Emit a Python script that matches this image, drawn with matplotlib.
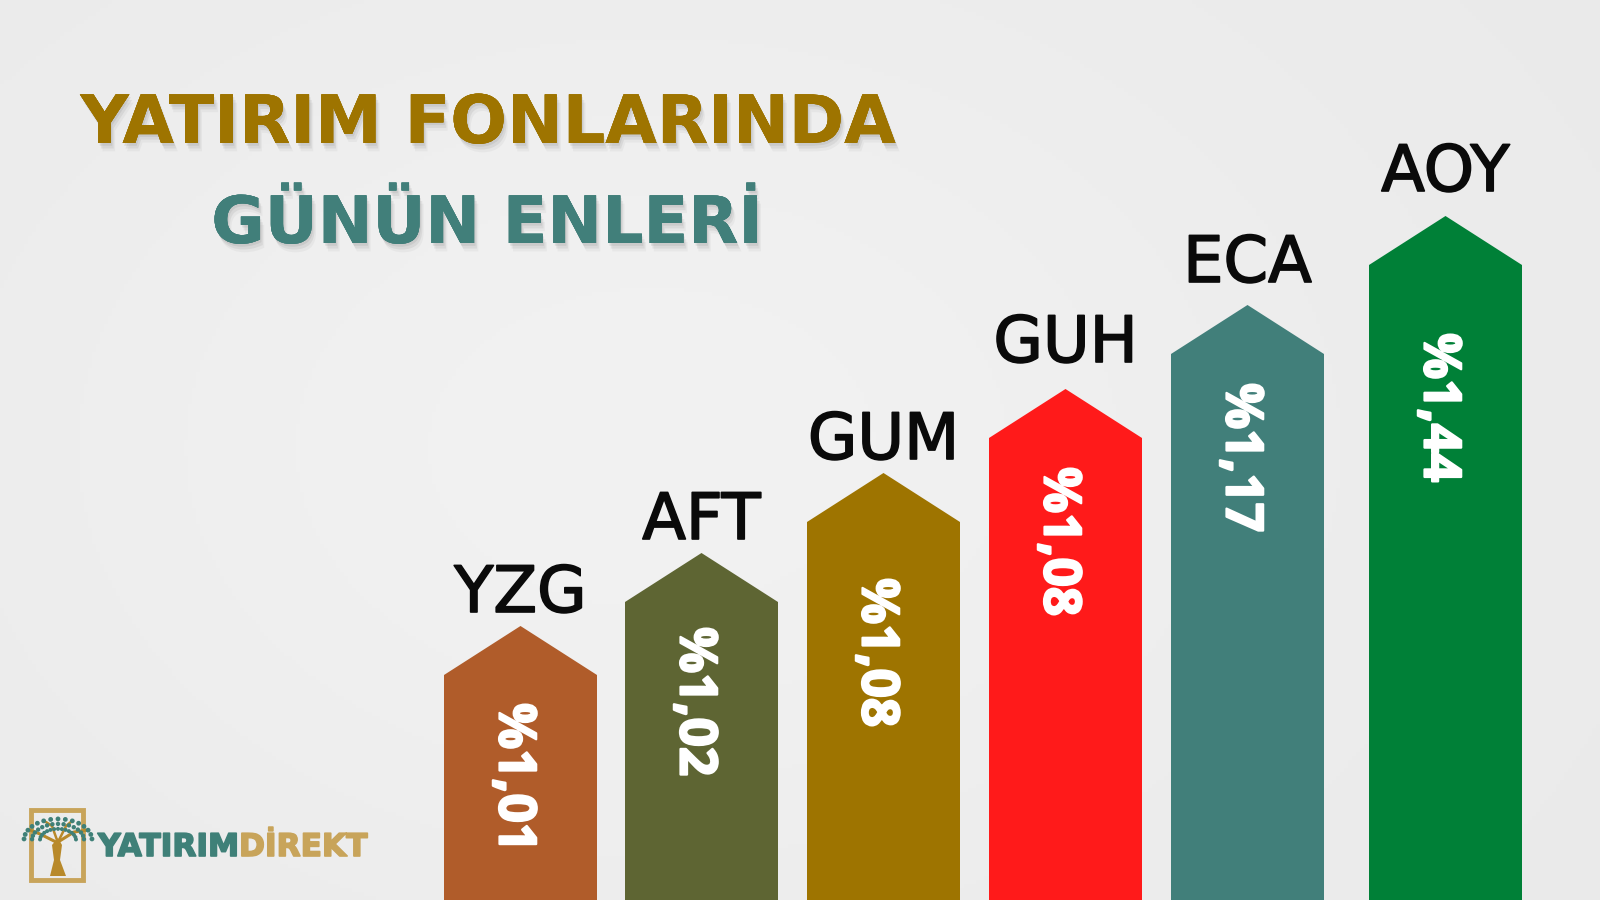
import matplotlib
matplotlib.use("Agg")
import matplotlib.pyplot as plt
import matplotlib.patheffects as pe
from matplotlib.patches import Polygon, Rectangle, Circle
import numpy as np

# ---------------- data ----------------
categories = ["YZG", "AFT", "GUM", "GUH", "ECA", "AOY"]
values = [1.01, 1.02, 1.08, 1.08, 1.17, 1.44]
bar_heights = [225, 298, 378, 462, 546, 635]       # shoulder heights as drawn (px from bottom)
colors = ["#B05C2A", "#5E6533", "#9E7400", "#FF1A1A", "#417F7A", "#008037"]

title_line1 = "YATIRIM FONLARINDA"
title_line2 = "GÜNÜN ENLERİ"
brand_a = "YATIRIM"
brand_b = "DİREKT"

# ---------------- layout ----------------
bar_left = [444, 625, 807, 989, 1171, 1369]
bar_width = 153
tip_h = 49
label_gap = [14, 14, 14, 27, 23, 25]
value_offset = [28, 25, 56, 29, 29, 68]

W, H = 1600, 900
fig = plt.figure(figsize=(16, 9), dpi=100)
ax = fig.add_axes([0, 0, 1, 1])
ax.set_xlim(0, W)
ax.set_ylim(0, H)
ax.axis("off")

# background: soft light-gray gradient
yy, xx = np.mgrid[0:H:4, 0:W:4]
g = 0.918 + 0.03 * np.exp(-(((xx - 650) / 700.0) ** 2 + ((yy - 450) / 500.0) ** 2))
bg = np.dstack([g, g, g])
ax.imshow(bg, extent=[0, W, 0, H], origin="lower", aspect="auto", zorder=0)

# ---------------- arrow bars ----------------
thick_label = [pe.withStroke(linewidth=1.2, foreground="#0a0a0a")]
thick_value = [pe.withStroke(linewidth=1.6, foreground="white")]
for i, (cat, v, h, c) in enumerate(zip(categories, values, bar_heights, colors)):
    L = bar_left[i]
    cx = L + bar_width / 2
    poly = Polygon([(L, 0), (L, h), (cx, h + tip_h), (L + bar_width, h), (L + bar_width, 0)],
                   closed=True, facecolor=c, edgecolor="none", zorder=2)
    ax.add_patch(poly)
    ax.text(cx, h + tip_h + label_gap[i], cat, ha="center", va="baseline",
            fontsize=46, family="DejaVu Sans", color="#0a0a0a",
            path_effects=thick_label, zorder=3)
    txt = "%" + f"{v:.2f}".replace(".", ",")
    ax.text(cx - 2, h - value_offset[i], txt, rotation=-90, rotation_mode="anchor",
            ha="left", va="center_baseline", fontsize=37, family="Open Sans",
            fontweight="bold", fontstyle="normal", color="white",
            path_effects=thick_value, zorder=3)

# ---------------- title ----------------
shadow = [pe.withSimplePatchShadow(offset=(1, -2), shadow_rgbFace="#888888", alpha=0.18),
          pe.withSimplePatchShadow(offset=(2, -4), shadow_rgbFace="#888888", alpha=0.14),
          pe.withSimplePatchShadow(offset=(3, -6), shadow_rgbFace="#999999", alpha=0.10),
          pe.Normal()]
ax.text(488, 757, title_line1, ha="center", va="baseline", fontsize=48,
        family="DejaVu Sans", fontweight="bold", color="#9E7400", path_effects=shadow, zorder=3)
ax.text(487, 657, title_line2, ha="center", va="baseline", fontsize=47,
        family="DejaVu Sans", fontweight="bold", color="#417F7A", path_effects=shadow, zorder=3)

# ---------------- logo ----------------
gold = "#C8A45A"
teal = "#3F8078"
ax.add_patch(Rectangle((31, 20), 52, 70, fill=False, edgecolor=gold, linewidth=3.5, zorder=3))
# trunk
ax.add_patch(Polygon([(50, 24), (54, 40), (52, 55), (58, 62), (62, 55), (60, 40), (66, 24)],
                     closed=True, facecolor="#B8892A", edgecolor="none", zorder=4))
ax.plot([56, 40, 30], [58, 66, 70], color="#B8892A", lw=2.2, zorder=4, solid_capstyle="round")
ax.plot([58, 74, 88], [58, 68, 70], color="#B8892A", lw=2.2, zorder=4, solid_capstyle="round")
ax.plot([57, 52, 46], [60, 74, 78], color="#B8892A", lw=1.8, zorder=4, solid_capstyle="round")
ax.plot([59, 66, 72], [60, 74, 79], color="#B8892A", lw=1.8, zorder=4, solid_capstyle="round")
# canopy
for ang in np.linspace(0.05, np.pi - 0.05, 15):
    for r, s in ((34, 2.4), (26, 2.2), (18, 2.0)):
        ax.add_patch(Circle((58 + r * np.cos(ang), 60 + 0.62 * r * np.sin(ang)), s,
                            facecolor=teal, edgecolor="none", zorder=5))
t1 = ax.text(98, 44, brand_a, ha="left", va="baseline", fontsize=22.5,
             family="DejaVu Sans", fontweight="bold", color=teal,
             path_effects=[pe.withStroke(linewidth=1.2, foreground=teal)], zorder=3)
fig.canvas.draw()
bb = t1.get_window_extent()
x_end = ax.transData.inverted().transform((bb.x1, bb.y0))[0]
ax.text(x_end, 44, brand_b, ha="left", va="baseline", fontsize=22.5,
        family="DejaVu Sans", fontweight="bold", color=gold,
        path_effects=[pe.withStroke(linewidth=1.2, foreground=gold)], zorder=3)

fig.savefig("out.png", dpi=100)
